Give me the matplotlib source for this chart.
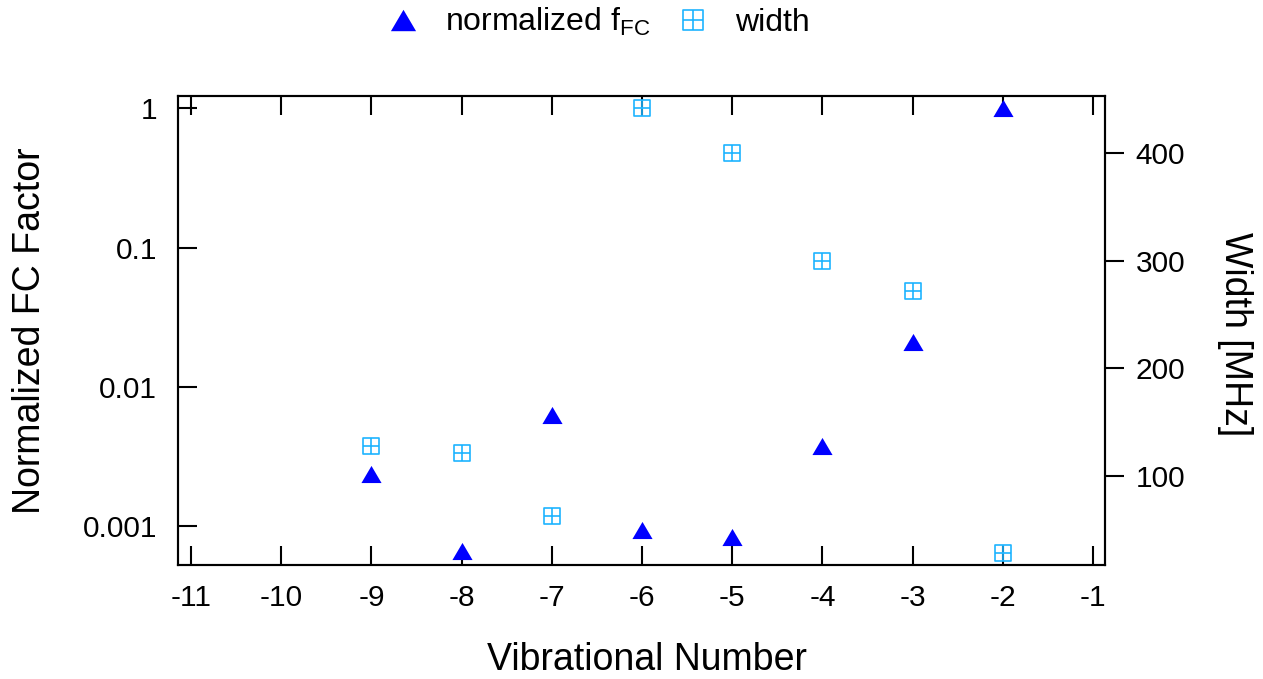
import matplotlib
matplotlib.use("Agg")
import matplotlib.pyplot as plt
from matplotlib.path import Path
from matplotlib.markers import MarkerStyle

plt.rcParams['font.family'] = ['Liberation Sans', 'DejaVu Sans']
plt.rcParams['mathtext.fontset'] = 'custom'
plt.rcParams['mathtext.rm'] = 'Liberation Sans'
plt.rcParams['mathtext.it'] = 'Liberation Sans'

# Data
vib_number = [-9, -8, -7, -6, -5, -4, -3, -2]
fc_normalized = [0.00236, 0.00066, 0.00627, 0.00094, 0.00083, 0.00377, 0.0209, 1.0]
width_mhz = [128, 121, 63, 442, 400, 300, 272, 28]

x_ticks = [-11, -10, -9, -8, -7, -6, -5, -4, -3, -2, -1]
fc_ticks = [1, 0.1, 0.01, 0.001]
fc_tick_labels = ['1', '0.1', '0.01', '0.001']
width_ticks = [100, 200, 300, 400]

TRI_COLOR = '#0000ff'
BOX_COLOR = '#1eb4ff'
FS_TICK = 21.5
FS_LEGEND = 23
FS_LABEL = 27

# Marker shapes: a squat filled triangle and a square with a cross inside
tri_marker = MarkerStyle(Path([(0, 0.85), (-1, -0.85), (1, -0.85), (0, 0.85)],
                              [Path.MOVETO, Path.LINETO, Path.LINETO, Path.CLOSEPOLY]))
box_verts = [(-1, -1), (1, -1), (1, 1), (-1, 1), (-1, -1),
             (0, -1), (0, 1), (-1, 0), (1, 0)]
box_codes = [Path.MOVETO, Path.LINETO, Path.LINETO, Path.LINETO, Path.CLOSEPOLY,
             Path.MOVETO, Path.LINETO, Path.MOVETO, Path.LINETO]
box_marker = MarkerStyle(Path(box_verts, box_codes))

fig = plt.figure(figsize=(12.63, 6.79), dpi=100)
ax = fig.add_axes([178 / 1263, 1 - 565 / 679, 927 / 1263, 469 / 679])
ax2 = ax.twinx()

tri, = ax.plot(vib_number, fc_normalized, linestyle='none', marker=tri_marker,
               markersize=14.5, color=TRI_COLOR, markeredgewidth=0, zorder=3)
box, = ax2.plot(vib_number, width_mhz, linestyle='none', marker=box_marker,
                markersize=12, markerfacecolor='none', markeredgecolor=BOX_COLOR,
                markeredgewidth=1.2, zorder=3)

ax.set_yscale('log')
ax.set_xlim(-11.144, -0.867)
ax.set_ylim(5.25e-4, 1.226)
ax2.set_ylim(17.3, 453.3)

ax.set_xticks(x_ticks)
ax.set_xticklabels([str(v) for v in x_ticks])
ax.set_yticks(fc_ticks)
ax.set_yticklabels(fc_tick_labels)
ax.yaxis.set_minor_locator(matplotlib.ticker.NullLocator())
ax2.set_yticks(width_ticks)
ax2.set_yticklabels([str(v) for v in width_ticks])

for a in (ax, ax2):
    for s in a.spines.values():
        s.set_linewidth(1.5)
        s.set_color('black')

ax.tick_params(axis='x', which='both', direction='in', top=True, bottom=True,
               length=14, width=1.5, labelsize=FS_TICK, pad=14)
ax.tick_params(axis='y', which='both', direction='in', left=True, right=False,
               length=14, width=1.5, labelsize=FS_TICK, pad=15)
ax2.tick_params(axis='y', which='both', direction='out', right=True, left=False,
                length=14, width=1.5, labelsize=FS_TICK, pad=8)

fig.text(647 / 1263, 1 - 660 / 679, 'Vibrational Number', fontsize=FS_LABEL,
         ha='center', va='center')
fig.text(30 / 1263, 1 - 331 / 679, 'Normalized FC Factor', fontsize=FS_LABEL,
         ha='center', va='center', rotation=90)
fig.text(1235 / 1263, 1 - 334 / 679, 'Width [MHz]', fontsize=FS_LABEL,
         ha='center', va='center', rotation=270)

fig.legend([tri, box], [r'normalized f$_{\mathrm{FC}}$', 'width'],
           loc='center', bbox_to_anchor=(598.5 / 1263, 1 - 22 / 679), ncol=2,
           frameon=False, fontsize=FS_LEGEND, markerscale=1.25, handlelength=1.0,
           handletextpad=0.82, columnspacing=0.82, borderpad=0)

fig.savefig('out.png', dpi=100)
